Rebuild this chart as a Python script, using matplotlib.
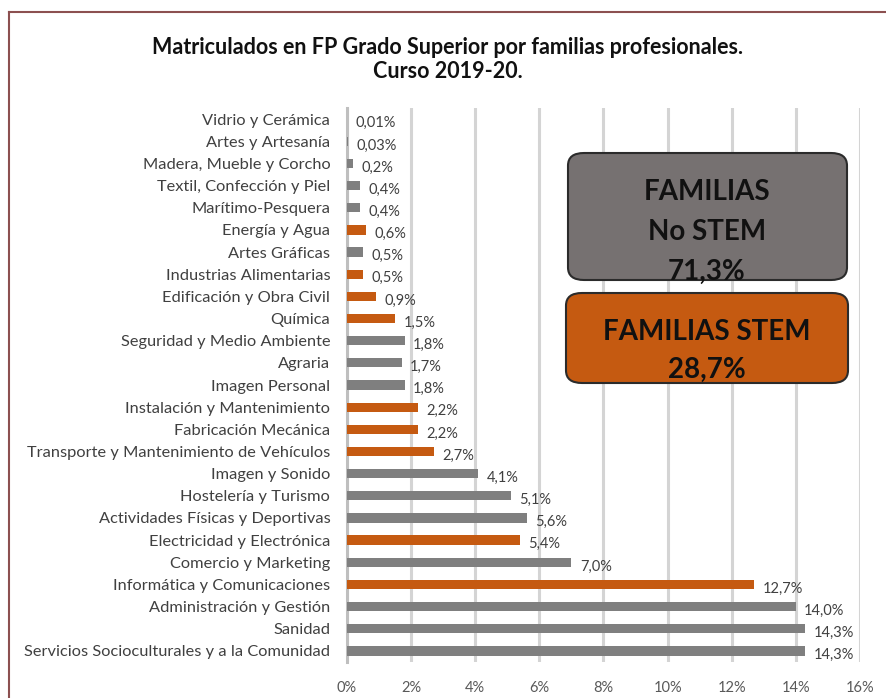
import matplotlib.pyplot as plt
from matplotlib.patches import FancyBboxPatch
from matplotlib.lines import Line2D

plt.rcParams["font.family"] = ["Lato", "DejaVu Sans"]

# data, top to bottom as in the chart
familias = [
    "Vidrio y Cerámica",
    "Artes y Artesanía",
    "Madera, Mueble y Corcho",
    "Textil, Confección y Piel",
    "Marítimo-Pesquera",
    "Energía y Agua",
    "Artes Gráficas",
    "Industrias Alimentarias",
    "Edificación y Obra Civil",
    "Química",
    "Seguridad y Medio Ambiente",
    "Agraria",
    "Imagen Personal",
    "Instalación y Mantenimiento",
    "Fabricación Mecánica",
    "Transporte y Mantenimiento de Vehículos",
    "Imagen y Sonido",
    "Hostelería y Turismo",
    "Actividades Físicas y Deportivas",
    "Electricidad y Electrónica",
    "Comercio y Marketing",
    "Informática y Comunicaciones",
    "Administración y Gestión",
    "Sanidad",
    "Servicios Socioculturales y a la Comunidad",
]
porcentaje = [0.01, 0.03, 0.2, 0.4, 0.4, 0.6, 0.5, 0.5, 0.9, 1.5, 1.8, 1.7, 1.8,
              2.2, 2.2, 2.7, 4.1, 5.1, 5.6, 5.4, 7.0, 12.7, 14.0, 14.3, 14.3]
stem = [False, False, False, False, False, True, False, True, True, True, False,
        False, False, True, True, True, False, False, False, True, False, True,
        False, False, False]
xticks = [0, 2, 4, 6, 8, 10, 12, 14, 16]
total_no_stem = 71.3
total_stem = 28.7

GRAY = "#7f7f7f"
ORANGE = "#c55a11"


def fmt(v):
    if v < 0.1:
        return f"{v:.2f}%".replace(".", ",")
    return f"{v:.1f}%".replace(".", ",")


fig = plt.figure(figsize=(8.87, 6.98), dpi=100)
W, H = 887, 698

ax = fig.add_axes([347 / W, 1 - 662 / H, (860 - 347) / W, (662 - 108) / H])

y = list(range(len(familias)))
colors = [ORANGE if s else GRAY for s in stem]
ax.barh(y, porcentaje, height=0.42, color=colors, zorder=3)

for yi, v in zip(y, porcentaje):
    ax.annotate(fmt(v), xy=(v, yi), xytext=(6, -3), textcoords="offset points",
                ha="left", va="center", fontsize=10.5, color="#404040", zorder=4)

ax.set_ylim(len(familias) - 0.5, -0.5)
ax.set_xlim(0, 16)
ax.set_yticks(y)
ax.set_yticklabels(familias, fontsize=11.8, color="#404040")
ax.set_xticks(xticks)
ax.set_xticklabels([f"{t}%" for t in xticks], fontsize=10.5, color="#595959")
ax.tick_params(axis="y", length=0, pad=12)
ax.tick_params(axis="x", length=0, pad=14)

ax.grid(axis="x", color="#d4d4d4", linewidth=2.2, zorder=0)
ax.set_axisbelow(True)
for s in ["top", "right", "bottom"]:
    ax.spines[s].set_visible(False)
ax.spines["left"].set_color("#bfbfbf")
ax.spines["left"].set_linewidth(2.2)

fig.text(448 / W, 1 - 47 / H, "Matriculados en FP Grado Superior por familias profesionales.",
         ha="center", va="center", fontsize=15.5, fontweight="bold", color="#111111")
fig.text(448 / W, 1 - 72 / H, "Curso 2019-20.",
         ha="center", va="center", fontsize=15.5, fontweight="bold", color="#111111")

# summary boxes
box1 = FancyBboxPatch((568 / W, 1 - 280 / H), (847 - 568) / W, (280 - 153) / H,
                      boxstyle="round,pad=0,rounding_size=0.018",
                      transform=fig.transFigure, facecolor="#767171",
                      edgecolor="#2b2b2b", linewidth=1.5, zorder=5)
box2 = FancyBboxPatch((566 / W, 1 - 383 / H), (848 - 566) / W, (383 - 293) / H,
                      boxstyle="round,pad=0,rounding_size=0.018",
                      transform=fig.transFigure, facecolor=ORANGE,
                      edgecolor="#2b2b2b", linewidth=1.5, zorder=5)
fig.patches.extend([box1, box2])

cx = 707 / W
box_text = dict(ha="center", va="center", fontsize=20, fontweight="bold",
                color="#111111", zorder=6)
fig.text(cx, 1 - 192 / H, "FAMILIAS", **box_text)
fig.text(cx, 1 - 232 / H, "No STEM", **box_text)
fig.text(cx, 1 - 272 / H, fmt(total_no_stem), **box_text)
fig.text(cx, 1 - 332 / H, "FAMILIAS STEM", **box_text)
fig.text(cx, 1 - 370 / H, fmt(total_stem), **box_text)

# outer frame (top and left edges visible)
fig.add_artist(Line2D([9 / W, 1], [1 - 12 / H, 1 - 12 / H], transform=fig.transFigure,
                      color="#8c5050", linewidth=1.5))
fig.add_artist(Line2D([9 / W, 9 / W], [0, 1 - 12 / H], transform=fig.transFigure,
                      color="#8c5050", linewidth=1.5))

plt.savefig("out.png", dpi=100)
